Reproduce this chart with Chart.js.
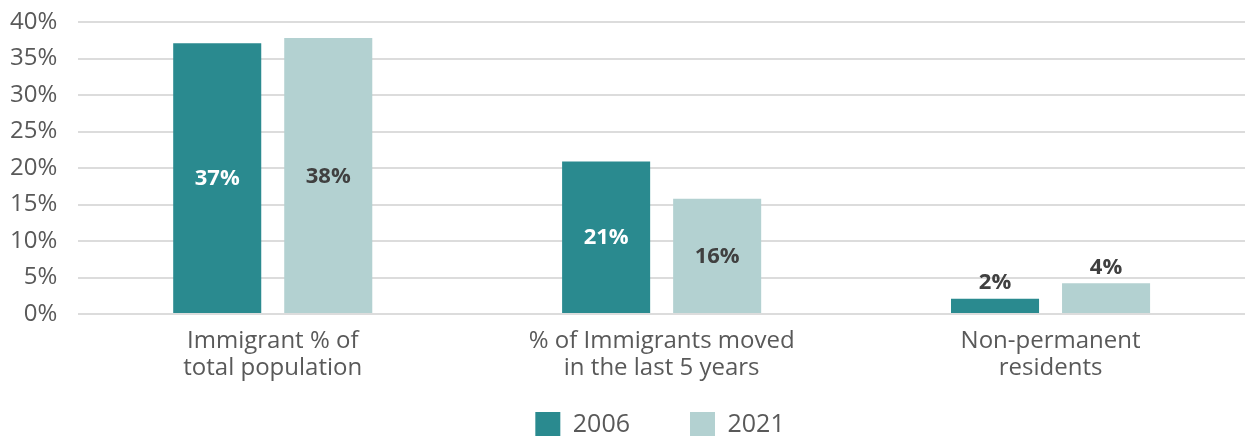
<!DOCTYPE html>
<html>
<head>
<meta charset="utf-8">
<script src="https://cdn.jsdelivr.net/npm/chart.js@4"></script>
<style>
  html, body { margin: 0; padding: 0; background: #fff; }
  #wrap { width: 1245px; height: 436px; }
</style>
</head>
<body>
<div id="wrap"><canvas id="chart"></canvas></div>
<script>
// Data
const categories = [['Immigrant % of', 'total population'], ['% of Immigrants moved', 'in the last 5 years'], ['Non-permanent', 'residents']];
const years = ['2006', '2021'];
const values2006 = [37.1, 20.9, 2.1];
const values2021 = [37.8, 15.8, 4.2];
const yTicks = [0, 5, 10, 15, 20, 25, 30, 35, 40];

const colors = ['#2a8a8f', '#b3d1d1'];
const labelColors = ['#ffffff', '#404040'];
const FONT = "'Open Sans', 'Noto Sans', sans-serif";

// Value labels: inside the bar when it is tall enough, above it otherwise
const barLabels = {
  id: 'barLabels',
  afterDatasetsDraw(chart) {
    const ctx = chart.ctx;
    ctx.save();
    ctx.font = 'bold 22px ' + FONT;
    ctx.textAlign = 'center';
    chart.data.datasets.forEach((ds, di) => {
      chart.getDatasetMeta(di).data.forEach((bar, i) => {
        const v = ds.data[i];
        const txt = Math.round(v) + '%';
        if (v > 8) {
          ctx.fillStyle = labelColors[di];
          ctx.textBaseline = 'middle';
          ctx.fillText(txt, bar.x, (bar.y + bar.base) / 2 + 1);
        } else {
          ctx.fillStyle = '#404040';
          ctx.textBaseline = 'bottom';
          ctx.fillText(txt, bar.x, bar.y - 5);
        }
      });
    });
    ctx.restore();
  }
};

// Legend: wide gap between items but kept close to the bottom edge
const legendSpacing = {
  id: 'legendSpacing',
  beforeLayout(chart) {
    const lg = chart.legend;
    if (lg && !lg._patched) {
      const fit = lg.fit;
      lg.fit = function () { fit.call(this); this.height = 48; };
      lg._patched = true;
    }
  },
  afterLayout(chart) {
    const lg = chart.legend;
    lg.top = chart.height - 24 - lg.options.labels.padding;
    lg.bottom = chart.height;
    lg.left += 43;
    lg.right += 43;
  }
};

new Chart(document.getElementById('chart'), {
  type: 'bar',
  data: {
    labels: categories,
    datasets: [
      { label: years[0], data: values2006, backgroundColor: colors[0] },
      { label: years[1], data: values2021, backgroundColor: colors[1] }
    ]
  },
  options: {
    responsive: true,
    maintainAspectRatio: false,
    animation: false,
    layout: { padding: { left: -11, right: 0, top: 0, bottom: 0 } },
    datasets: {
      bar: { categoryPercentage: 0.571, barPercentage: 0.793 }
    },
    scales: {
      x: {
        grid: { display: false },
        border: { display: false },
        ticks: {
          color: '#595959',
          font: { family: FONT, size: 24, lineHeight: 1.125 },
          padding: 6
        }
      },
      y: {
        min: 0,
        max: 40,
        afterBuildTicks(axis) { axis.ticks = yTicks.map(v => ({ value: v })); },
        afterFit(axis) { axis.paddingTop = 22; axis.paddingBottom = 0; },
        grid: { color: '#dcdcdc', lineWidth: 2, drawTicks: false },
        border: { display: false },
        ticks: {
          color: '#595959',
          font: { family: FONT, size: 24 },
          padding: 21,
          callback: v => v + '%'
        }
      }
    },
    plugins: {
      legend: {
        position: 'bottom',
        labels: {
          color: '#595959',
          font: { family: FONT, size: 25 },
          boxWidth: 25,
          boxHeight: 25,
          padding: 60
        }
      },
      tooltip: { enabled: false }
    }
  },
  plugins: [barLabels, legendSpacing]
});
</script>
</body>
</html>
